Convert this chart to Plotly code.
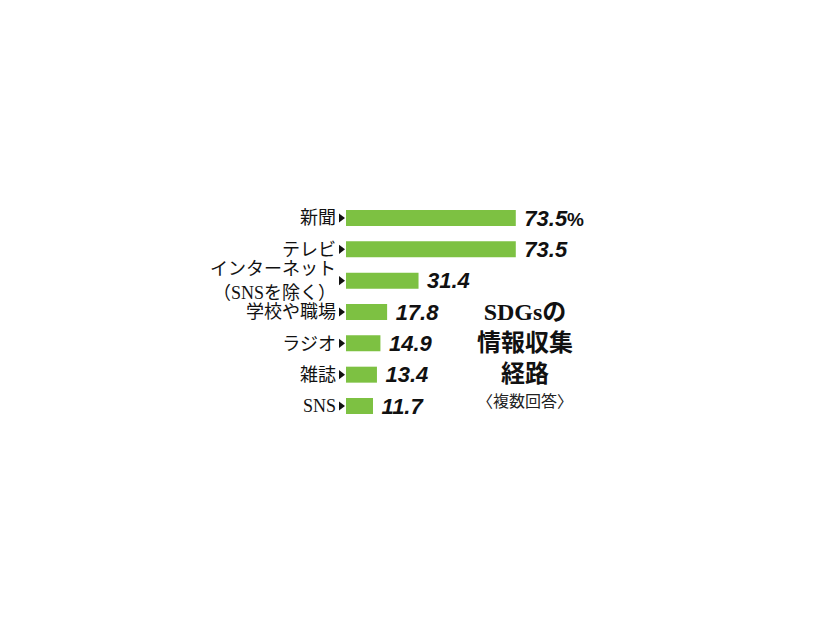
import plotly.graph_objects as go

# SDGsの情報収集経路（複数回答）
categories = ["新聞", "テレビ", "インターネット<br>（SNSを除く）", "学校や職場", "ラジオ", "雑誌", "SNS"]
values = [73.5, 73.5, 31.4, 17.8, 14.9, 13.4, 11.7]
unit = "%"

title_lines = ["SDGsの", "情報収集", "経路"]
subtitle = "〈複数回答〉"

label_font = "Liberation Serif, Noto Sans CJK JP"
bar_color = "#7dc142"

# value labels, only the first one carries the unit
texts = []
for i, v in enumerate(values):
    t = "\u2005" + f"{v:.1f}"
    if i == 0:
        t += f"<span style='font-size:19px;font-style:normal'>{unit}</span>"
    texts.append(t)

fig = go.Figure()
fig.add_trace(go.Bar(
    x=values, y=categories, orientation="h",
    marker=dict(color=bar_color, line_width=0),
    text=texts, textposition="outside", cliponaxis=False, constraintext="none",
    textfont=dict(family="Liberation Sans, Arial", size=22, color="#111",
                  style="italic", weight="bold"),
    hoverinfo="skip",
))

# little black pointers between label and bar
fig.add_trace(go.Scatter(
    x=[0] * len(categories), y=categories, mode="markers",
    marker=dict(symbol="triangle-up", angle=90, standoff=5, size=8, color="#111"),
    cliponaxis=False, hoverinfo="skip",
))

# title block on the right
fig.add_annotation(
    text="<b>" + "<br>".join(title_lines) + "</b>",
    xref="paper", yref="paper", x=0.774, y=0.36,
    showarrow=False, xanchor="center", yanchor="middle", align="center",
    font=dict(family=label_font, size=24, color="#111"),
)
fig.add_annotation(
    text=subtitle, xref="paper", yref="paper", x=0.774, y=0.095,
    showarrow=False, xanchor="center", yanchor="middle",
    font=dict(family=label_font, size=16, color="#222"),
)

# the page adds an 8px body margin, so margins are trimmed by 8
fig.update_layout(
    width=826, height=620,
    margin=dict(l=338, r=257, t=194, b=206),
    paper_bgcolor="white", plot_bgcolor="white",
    showlegend=False, bargap=0.49,
    xaxis=dict(range=[0, 100], visible=False, fixedrange=True),
    yaxis=dict(autorange="reversed", showgrid=False, zeroline=False, showline=False,
               ticks="", ticklabelstandoff=9,
               tickfont=dict(family=label_font, size=18, color="#111")),
)

fig.write_html("out.html")
